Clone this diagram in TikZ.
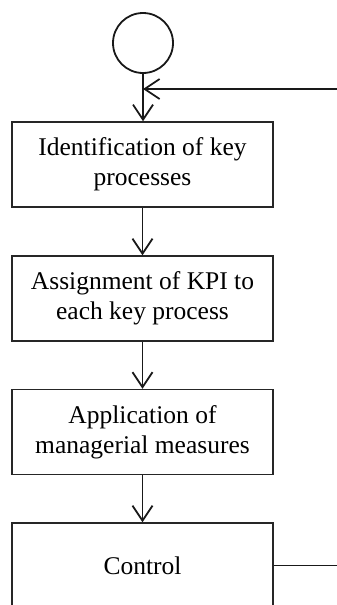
\documentclass[tikz,border=0pt]{standalone}
\usepackage{fontspec}
\setmainfont{Liberation Serif}
\usetikzlibrary{arrows.meta}
\begin{document}
\begin{tikzpicture}[x=1pt,y=-1pt,
  line width=1.8pt,
  wire/.style={draw=black!90},
  flow/.style={wire,-{Straight Barb[length=15pt,width=20pt,line width=1.8pt]}},
  stepbox/.style={draw=black!85,line width=1.5pt,minimum width=261pt,minimum height=85pt,
    align=center,inner sep=0pt,font=\fontsize{25.5}{30}\selectfont,text=black},
  startnode/.style={circle,draw=black!90,line width=1.8pt,minimum size=60pt,inner sep=0pt}]
  \clip (0,0) rectangle (337,605);
  \node[startnode] (start) at (143,43) {};
  \node[stepbox] (ident) at (142.5,164.5) {Identification of key\\processes};
  \node[stepbox] (assign) at (142.5,298.5) {Assignment of KPI to\\each key process};
  \node[stepbox] (apply) at (142.5,432) {Application of\\managerial measures};
  \node[stepbox] (control) at (142.5,565.5) {Control};
  \coordinate (loopout) at (345,565.5);
  \coordinate (loopin) at (345,89);
  \draw[flow] (start.south) -- (start.south |- ident.north);
  \draw[flow] (ident.south) -- (assign.north);
  \draw[flow] (assign.south) -- (apply.north);
  \draw[flow] (apply.south) -- (control.north);
  \draw[wire] (control.east) -- (loopout);
  \draw[flow] (loopin) -- (loopin -| start.south);
\end{tikzpicture}
\end{document}
